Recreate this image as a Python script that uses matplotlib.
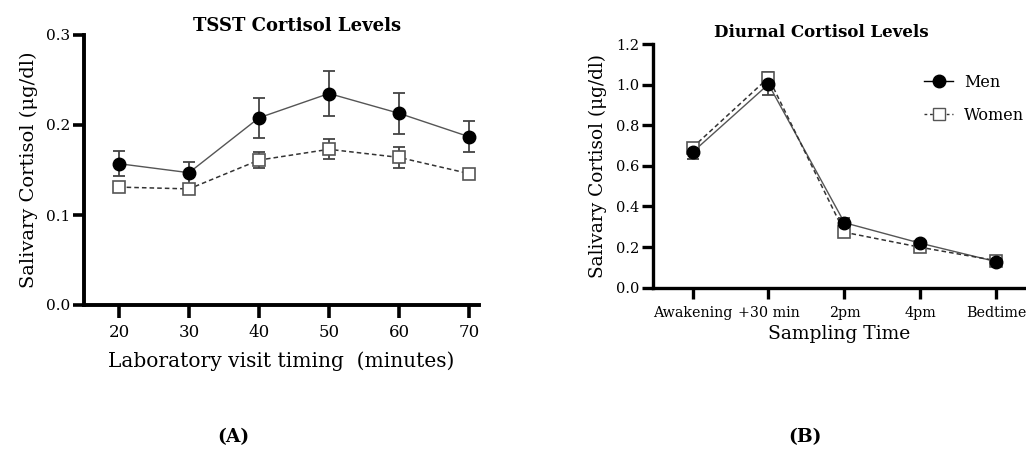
import matplotlib
matplotlib.use("Agg")
import matplotlib.pyplot as plt
from matplotlib.lines import Line2D

plt.rcParams['font.family'] = ['DejaVu Serif']

# Panel A data
tsst_minutes = [20, 30, 40, 50, 60, 70]
tsst_men = [0.157, 0.147, 0.208, 0.235, 0.213, 0.187]
tsst_men_err = [0.014, 0.012, 0.022, 0.025, 0.023, 0.017]
tsst_women = [0.131, 0.129, 0.161, 0.173, 0.164, 0.146]
tsst_women_err = [0.003, 0.004, 0.009, 0.011, 0.012, 0.005]

# Panel B data
diurnal_labels = ["Awakening", "+30 min", "2pm", "4pm", "Bedtime"]
diurnal_men = [0.667, 1.002, 0.320, 0.219, 0.128]
diurnal_men_err = [0.035, 0.055, 0.025, 0.010, 0.012]
diurnal_women = [0.690, 1.034, 0.273, 0.199, 0.133]
diurnal_women_err = [0.015, 0.027, 0.010, 0.008, 0.010]

W, H = 1026, 458
fig = plt.figure(figsize=(W / 100, H / 100), dpi=100)


def px_axes(left, top, right, bottom):
    return fig.add_axes([left / W, 1 - bottom / H, (right - left) / W, (bottom - top) / H])


def draw_series(ax, x, men, men_err, women, women_err, ms_c, ms_s):
    ax.errorbar(x, men, yerr=men_err, fmt='none', ecolor='#444444', elinewidth=1.3,
                capsize=4.5, capthick=1.3, zorder=2)
    ax.plot(x, men, color='#555555', lw=1.0, zorder=3)
    ax.plot(x, men, ls='none', marker='o', ms=ms_c, mfc='black', mec='black', zorder=5)
    ax.errorbar(x, women, yerr=women_err, fmt='none', ecolor='#444444', elinewidth=1.3,
                capsize=4.5, capthick=1.3, zorder=2)
    ax.plot(x, women, color='#333333', lw=1.1, ls=(0, (3, 2)), zorder=3)
    ax.plot(x, women, ls='none', marker='s', ms=ms_s, mfc='white', mec='#555555',
            mew=1.2, zorder=4)


# ---------- Panel A ----------
axA = px_axes(84, 35, 479, 305)
draw_series(axA, tsst_minutes, tsst_men, tsst_men_err, tsst_women, tsst_women_err, 9, 8)
axA.set_xlim(15, 71.43)
axA.set_ylim(0, 0.3)
axA.set_xticks(tsst_minutes)
axA.set_yticks([0.0, 0.1, 0.2, 0.3])
axA.set_yticklabels(["0.0", "0.1", "0.2", "0.3"])
for s in ['top', 'right']:
    axA.spines[s].set_visible(False)
for s in ['left', 'bottom']:
    axA.spines[s].set_linewidth(2.8)
axA.tick_params(axis='x', length=9, width=2.6, labelsize=12, pad=5)
axA.tick_params(axis='y', length=8, width=2.6, labelsize=11, pad=2)
axA.set_title("TSST Cortisol Levels", fontsize=13, fontweight='bold', pad=2, x=0.54)
axA.set_ylabel("Salivary Cortisol (μg/dl)", fontsize=14, labelpad=6)
axA.set_xlabel("Laboratory visit timing  (minutes)", fontsize=14.5, labelpad=7)

# ---------- Panel B ----------
axB = px_axes(653, 44, 1026, 287.7)
xb = list(range(len(diurnal_labels)))
draw_series(axB, xb, diurnal_men, diurnal_men_err, diurnal_women, diurnal_women_err, 9, 8)
axB.set_xlim(-0.52, 4.39)
axB.set_ylim(0, 1.2)
axB.set_xticks(xb)
axB.set_xticklabels(diurnal_labels)
axB.set_yticks([0.0, 0.2, 0.4, 0.6, 0.8, 1.0, 1.2])
axB.set_yticklabels(["0.0", "0.2", "0.4", "0.6", "0.8", "1.0", "1.2"])
for s in ['top', 'right']:
    axB.spines[s].set_visible(False)
for s in ['left', 'bottom']:
    axB.spines[s].set_linewidth(2.4)
axB.tick_params(axis='x', length=8, width=2.4, labelsize=10.3, pad=5)
axB.tick_params(axis='y', length=8, width=2.4, labelsize=10.5, pad=2)
axB.set_title("Diurnal Cortisol Levels", fontsize=12, fontweight='bold', pad=5, x=0.45)
axB.set_ylabel("Salivary Cortisol (μg/dl)", fontsize=13.3, labelpad=6)
axB.set_xlabel("Sampling Time", fontsize=13.5, labelpad=4)

handles = [
    Line2D([], [], color='black', lw=1.0, marker='o', ms=9, mfc='black', mec='black'),
    Line2D([], [], color='#333333', lw=1.0, ls=(0, (2, 2)), marker='s', ms=8,
           mfc='white', mec='#555555'),
]
axB.legend(handles, ["Men", "Women"], loc='upper left', bbox_to_anchor=(0.71, 0.905),
           frameon=False, fontsize=11.5, handlelength=1.8, handletextpad=0.7,
           labelspacing=1.0, borderaxespad=0)

fig.text(233 / W, 1 - 437 / H, "(A)", fontsize=13.5, fontweight='bold', ha='center', va='center')
fig.text(805 / W, 1 - 437 / H, "(B)", fontsize=13.5, fontweight='bold', ha='center', va='center')

fig.savefig("out.png", dpi=100)
